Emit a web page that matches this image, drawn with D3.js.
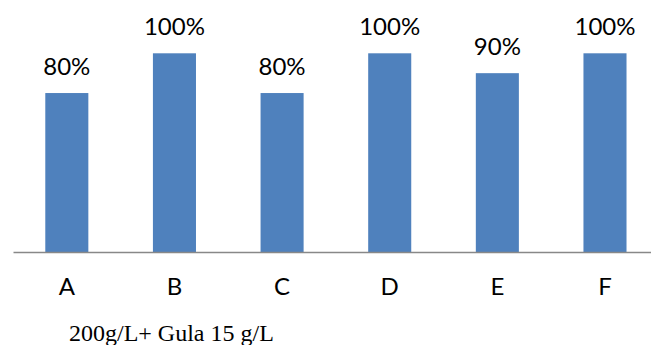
<!DOCTYPE html>
<html>
<head>
<meta charset="utf-8">
<script src="https://cdn.jsdelivr.net/npm/d3@7"></script>
<style>
  html, body { margin: 0; padding: 0; background: #fff; }
  svg { display: block; }
</style>
</head>
<body>
<script>
const categories = ["A", "B", "C", "D", "E", "F"];
const values = [0.8, 1.0, 0.8, 1.0, 0.9, 1.0];
const valueLabels = ["80%", "100%", "80%", "100%", "90%", "100%"];
const captionText = "200g/L+ Gula 15 g/L";

const W = 651, H = 345;
const svg = d3.select("body").append("svg").attr("width", W).attr("height", H);

const x = d3.scaleBand().domain(categories).range([13, 658.8]).paddingInner(0.6).paddingOuter(0.3);
const y = d3.scaleLinear().domain([0, 1]).range([252, 53.3]);

const labelFont = "Lato, 'Open Sans', sans-serif";

svg.selectAll("rect.bar").data(values).join("rect")
  .attr("class", "bar")
  .attr("x", (d, i) => x(categories[i]))
  .attr("width", x.bandwidth())
  .attr("y", d => y(d))
  .attr("height", d => y(0) - y(d))
  .attr("fill", "#4F81BD");

svg.selectAll("text.val").data(values).join("text")
  .attr("class", "val")
  .attr("x", (d, i) => x(categories[i]) + x.bandwidth() / 2)
  .attr("y", d => y(d) - 18)
  .attr("text-anchor", "middle")
  .attr("font-family", labelFont)
  .attr("font-size", 24)
  .attr("fill", "#000")
  .text((d, i) => valueLabels[i]);

const axis = d3.axisBottom(x).tickSize(0).tickPadding(26);
const gx = svg.append("g").attr("transform", `translate(0,${y(0)})`).call(axis);
gx.select(".domain").attr("stroke", "#888").attr("stroke-width", 1.5);
gx.selectAll("text").attr("font-family", labelFont).attr("font-size", 24).attr("fill", "#000");

svg.append("text")
  .attr("x", 69)
  .attr("y", 341)
  .attr("font-family", "'Liberation Serif', 'Times New Roman', serif")
  .attr("font-size", 24)
  .attr("fill", "#000")
  .text(captionText);
</script>
</body>
</html>
